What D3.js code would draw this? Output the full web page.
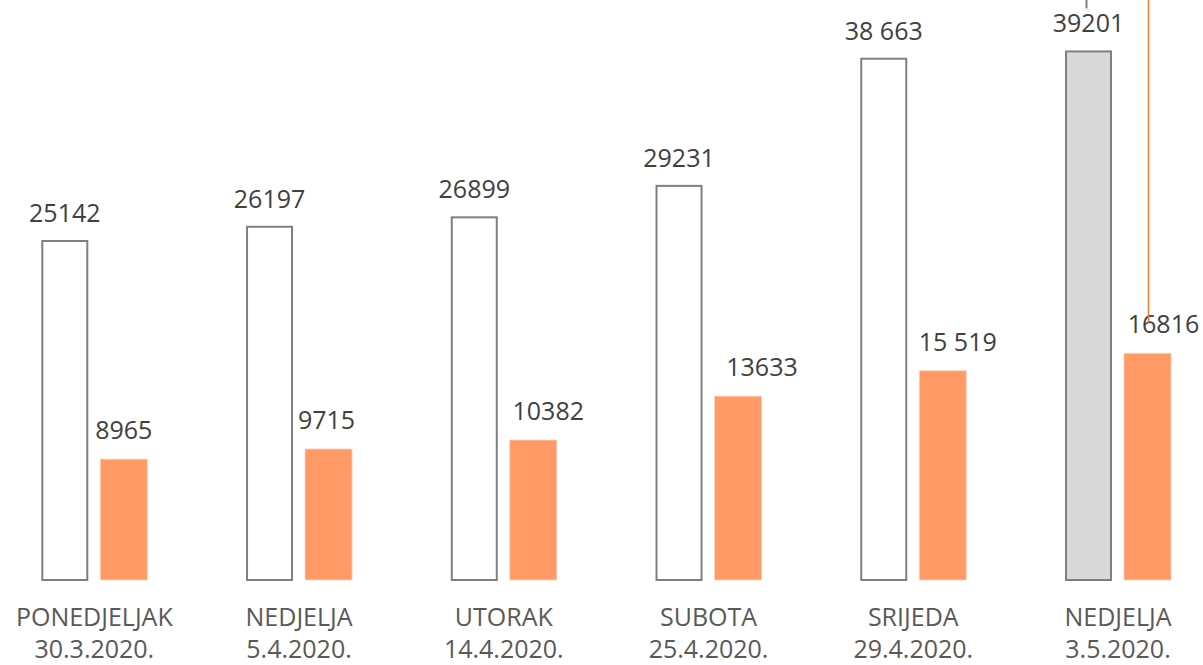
<!DOCTYPE html>
<html>
<head>
<meta charset="utf-8">
<script src="https://cdn.jsdelivr.net/npm/d3@7"></script>
<style>
  html, body { margin: 0; padding: 0; background: #ffffff; }
  svg { display: block; }
  text { font-family: "Open Sans", "Noto Sans", sans-serif; }
</style>
</head>
<body>
<svg id="chart" width="1203" height="665"></svg>
<script>
// ---- data ----
const dayNames   = ["PONEDJELJAK", "NEDJELJA", "UTORAK", "SUBOTA", "SRIJEDA", "NEDJELJA"];
const dates      = ["30.3.2020.", "5.4.2020.", "14.4.2020.", "25.4.2020.", "29.4.2020.", "3.5.2020."];
const totalValues  = [25142, 26197, 26899, 29231, 38663, 39201];
const totalLabels  = ["25142", "26197", "26899", "29231", "38 663", "39201"];
const orangeValues = [8965, 9715, 10382, 13633, 15519, 16816];
const orangeLabels = ["8965", "9715", "10382", "13633", "15 519", "16816"];

// ---- layout constants (not data) ----
const W = 1203, H = 665;
const baseY = 580;
const orangeLabelDx = [0, -2, 15, 24, 15, 16]; // manual label nudges as in the reference
const idx = d3.range(dayNames.length);

const svg = d3.select("#chart");

const x0 = d3.scalePoint().domain(idx).range([94.3, 1118]).padding(0);
const x1 = d3.scaleBand().domain(["total", "orange"]).range([-53, 53]).paddingInner(12 / 59).paddingOuter(0);
const y = d3.scaleLinear().domain([0, 43000]).range([baseY, baseY - 43000 * 0.013483]);

const groups = svg.selectAll("g.grp").data(idx).join("g")
  .attr("class", "grp")
  .attr("transform", i => `translate(${x0(i)},0)`);

// total (outlined) bars
groups.append("rect")
  .attr("x", x1("total") + 1)
  .attr("width", x1.bandwidth() - 2)
  .attr("y", i => y(totalValues[i]))
  .attr("height", i => baseY - y(totalValues[i]))
  .attr("fill", i => i === idx.length - 1 ? "#d9d9d9" : "#ffffff")
  .attr("stroke", "#7f7f7f")
  .attr("stroke-width", 2);

// orange bars
groups.append("rect")
  .attr("x", x1("orange"))
  .attr("width", x1.bandwidth())
  .attr("y", i => y(orangeValues[i]))
  .attr("height", i => baseY - y(orangeValues[i]))
  .attr("fill", "#ff9966")
  .attr("stroke", "#ffd2bb")
  .attr("stroke-width", 0.8);

// value labels
groups.append("text")
  .attr("x", x1("total") + x1.bandwidth() / 2)
  .attr("y", i => y(totalValues[i]) - 19)
  .attr("text-anchor", "middle")
  .attr("font-size", 25)
  .attr("fill", "#404040")
  .text(i => totalLabels[i]);

groups.append("text")
  .attr("x", i => x1("orange") + x1.bandwidth() / 2 + orangeLabelDx[i])
  .attr("y", i => y(orangeValues[i]) - 20)
  .attr("text-anchor", "middle")
  .attr("font-size", 25)
  .attr("fill", "#404040")
  .text(i => orangeLabels[i]);

// category labels
const cat = groups.append("text")
  .attr("text-anchor", "middle")
  .attr("font-size", 25)
  .attr("fill", "#595959");
cat.append("tspan").attr("x", 0).attr("y", 626).text(i => dayNames[i]);
cat.append("tspan").attr("x", 0).attr("y", 658).text(i => dates[i]);

// leader lines (labels of a chart continuing above the frame)
const last = idx.length - 1;
const gx = x0(last) + x1("total") + x1.bandwidth() / 2 - 2;
svg.append("line")
  .attr("x1", gx).attr("x2", gx)
  .attr("y1", 0).attr("y2", y(totalValues[last]) - 43)
  .attr("stroke", "#7f7f7f").attr("stroke-width", 2);
const ox = x0(last) + x1("orange") + x1.bandwidth() / 2 + 1;
svg.append("line")
  .attr("x1", ox).attr("x2", ox)
  .attr("y1", 0).attr("y2", y(orangeValues[last]) - 31)
  .attr("stroke", "#f4792b").attr("stroke-width", 1.5);
</script>
</body>
</html>
